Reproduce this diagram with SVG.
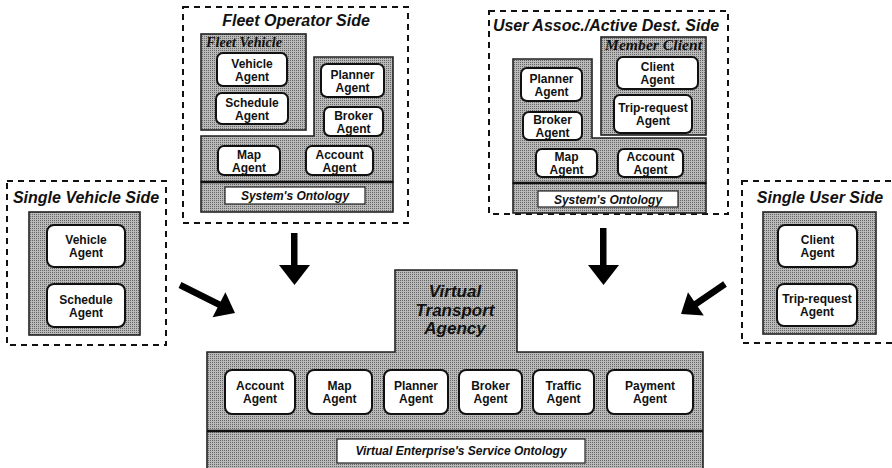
<svg xmlns="http://www.w3.org/2000/svg" width="892" height="468" viewBox="0 0 892 468">
<defs>
<pattern id="ht" width="2" height="2" patternUnits="userSpaceOnUse">
<rect width="2" height="2" fill="#bababa"/>
<rect width="1" height="1" fill="#646464"/>
</pattern>
</defs>
<style>
.dash{fill:none;stroke:#111;stroke-width:2;stroke-dasharray:6 5}
.grey{fill:url(#ht);stroke:#222;stroke-width:1.6}
.ag{fill:#fff;stroke:#111;stroke-width:2}
.onto{fill:#fff;stroke:#222;stroke-width:1.2}
.sep{stroke:#111;stroke-width:2.5}
text{font-family:"Liberation Sans",Arial,sans-serif;font-weight:bold;fill:#111}
.t{font-size:12px;text-anchor:middle}
.title{font-size:16px;font-style:italic;text-anchor:middle}
.ot{font-size:12px;font-style:italic;text-anchor:middle}
.ser{font-family:"Liberation Serif","Times New Roman",serif;font-style:italic;font-weight:bold;font-size:14px}
.vta{font-size:17px;font-style:italic;text-anchor:middle}
.arrow{fill:#000}
</style>

<g id="fleet-operator-side">
<rect class="dash" x="183" y="7" width="225" height="216"/>
<text class="title" x="296" y="26">Fleet Operator Side</text>
<g id="fleet-vehicle">
<rect class="grey" x="201" y="34" width="105" height="96"/>
<text class="ser" x="206" y="47" textLength="76" lengthAdjust="spacingAndGlyphs">Fleet Vehicle</text>
</g>
<polygon class="grey" points="314,57 393,57 393,182 201,182 201,136 314,136"/>
<rect class="grey" x="201" y="182" width="192" height="30"/>
<line class="sep" x1="201" y1="182" x2="393" y2="182"/>
<g id="fo-vehicle-agent"><rect class="ag" x="217" y="53" width="70" height="33" rx="6"/><text class="t" x="252" y="67.5">Vehicle</text><text class="t" x="252" y="80.5">Agent</text></g>
<g id="fo-schedule-agent"><rect class="ag" x="216" y="93" width="72" height="31" rx="6"/><text class="t" x="252" y="106.5">Schedule</text><text class="t" x="252" y="119.5">Agent</text></g>
<g id="fo-planner-agent"><rect class="ag" x="321" y="64" width="63" height="33" rx="6"/><text class="t" x="352.5" y="78.5">Planner</text><text class="t" x="352.5" y="91.5">Agent</text></g>
<g id="fo-broker-agent"><rect class="ag" x="324" y="107" width="59" height="29" rx="6"/><text class="t" x="353.5" y="119.5">Broker</text><text class="t" x="353.5" y="132.5">Agent</text></g>
<g id="fo-map-agent"><rect class="ag" x="218" y="146" width="62" height="29" rx="6"/><text class="t" x="249" y="158.5">Map</text><text class="t" x="249" y="171.5">Agent</text></g>
<g id="fo-account-agent"><rect class="ag" x="306" y="146" width="67" height="29" rx="6"/><text class="t" x="339.5" y="158.5">Account</text><text class="t" x="339.5" y="171.5">Agent</text></g>
<g id="fo-ontology"><rect class="onto" x="225" y="187" width="140" height="17"/><text class="ot" x="295" y="200">System's Ontology</text></g>
</g>

<g id="user-assoc-side">
<rect class="dash" x="489" y="11" width="239" height="203"/>
<text class="title" x="606" y="31">User Assoc./Active Dest. Side</text>
<g id="member-client">
<rect class="grey" x="601" y="37" width="105" height="98"/>
<text class="ser" x="605" y="50" textLength="97" lengthAdjust="spacingAndGlyphs">Member Client</text>
</g>
<polygon class="grey" points="513,59 592,59 592,138 706,138 706,183 513,183"/>
<rect class="grey" x="513" y="183" width="193" height="30"/>
<line class="sep" x1="513" y1="183" x2="706" y2="183"/>
<g id="ua-client-agent"><rect class="ag" x="617" y="57" width="81" height="32" rx="6"/><text class="t" x="657.5" y="71">Client</text><text class="t" x="657.5" y="84">Agent</text></g>
<g id="ua-trip-request-agent"><rect class="ag" x="614" y="95" width="78" height="38" rx="6"/><text class="t" x="653" y="112">Trip-request</text><text class="t" x="653" y="125">Agent</text></g>
<g id="ua-planner-agent"><rect class="ag" x="521" y="68" width="61" height="33" rx="6"/><text class="t" x="551.5" y="82.5">Planner</text><text class="t" x="551.5" y="95.5">Agent</text></g>
<g id="ua-broker-agent"><rect class="ag" x="523" y="112" width="59" height="28" rx="6"/><text class="t" x="552.5" y="124">Broker</text><text class="t" x="552.5" y="137">Agent</text></g>
<g id="ua-map-agent"><rect class="ag" x="536" y="149" width="61" height="28" rx="6"/><text class="t" x="566.5" y="161">Map</text><text class="t" x="566.5" y="174">Agent</text></g>
<g id="ua-account-agent"><rect class="ag" x="618" y="149" width="65" height="28" rx="6"/><text class="t" x="650.5" y="161">Account</text><text class="t" x="650.5" y="174">Agent</text></g>
<g id="ua-ontology"><rect class="onto" x="538" y="191" width="140" height="16"/><text class="ot" x="608" y="203.5">System's Ontology</text></g>
</g>

<g id="single-vehicle-side">
<rect class="dash" x="7" y="181" width="159" height="164"/>
<text class="title" x="86" y="203">Single Vehicle Side</text>
<rect class="grey" x="29" y="212" width="111" height="123"/>
<g id="sv-vehicle-agent"><rect class="ag" x="47" y="225" width="78" height="42" rx="7"/><text class="t" x="86" y="244">Vehicle</text><text class="t" x="86" y="257">Agent</text></g>
<g id="sv-schedule-agent"><rect class="ag" x="47" y="284" width="78" height="43" rx="7"/><text class="t" x="86" y="303.5">Schedule</text><text class="t" x="86" y="316.5">Agent</text></g>
</g>

<g id="single-user-side">
<rect class="dash" x="742" y="181" width="170" height="162"/>
<text class="title" x="820" y="203">Single User Side</text>
<rect class="grey" x="763" y="212" width="113" height="122"/>
<g id="su-client-agent"><rect class="ag" x="778" y="225" width="79" height="42" rx="7"/><text class="t" x="817.5" y="244">Client</text><text class="t" x="817.5" y="257">Agent</text></g>
<g id="su-trip-request-agent"><rect class="ag" x="777" y="284" width="80" height="42" rx="7"/><text class="t" x="817" y="303">Trip-request</text><text class="t" x="817" y="316">Agent</text></g>
</g>

<g id="virtual-transport-agency">
<polygon class="grey" points="395,270 517,270 517,352 703,352 703,470 207,470 207,352 395,352"/>
<line class="sep" x1="207" y1="431" x2="703" y2="431"/>
<text class="vta" x="455" y="297">Virtual</text>
<text class="vta" x="455" y="315.5">Transport</text>
<text class="vta" x="455" y="334">Agency</text>
<g id="vta-account-agent"><rect class="ag" x="225" y="370" width="70" height="44" rx="7"/><text class="t" x="260" y="390">Account</text><text class="t" x="260" y="403">Agent</text></g>
<g id="vta-map-agent"><rect class="ag" x="307" y="370" width="65" height="44" rx="7"/><text class="t" x="339.5" y="390">Map</text><text class="t" x="339.5" y="403">Agent</text></g>
<g id="vta-planner-agent"><rect class="ag" x="384" y="370" width="64" height="44" rx="7"/><text class="t" x="416" y="390">Planner</text><text class="t" x="416" y="403">Agent</text></g>
<g id="vta-broker-agent"><rect class="ag" x="459" y="370" width="63" height="44" rx="7"/><text class="t" x="490.5" y="390">Broker</text><text class="t" x="490.5" y="403">Agent</text></g>
<g id="vta-traffic-agent"><rect class="ag" x="533" y="370" width="61" height="44" rx="7"/><text class="t" x="563.5" y="390">Traffic</text><text class="t" x="563.5" y="403">Agent</text></g>
<g id="vta-payment-agent"><rect class="ag" x="607" y="370" width="86" height="44" rx="7"/><text class="t" x="650" y="390">Payment</text><text class="t" x="650" y="403">Agent</text></g>
<g id="vta-ontology"><rect class="onto" x="337" y="439" width="248" height="24"/><text class="ot" x="461" y="455">Virtual Enterprise's Service Ontology</text></g>
</g>

<g id="connectors">
<g id="arrow-fleet">
<rect class="arrow" x="291" y="233" width="6.5" height="33"/>
<polygon class="arrow" points="279,265 310,265 294.5,285"/>
</g>
<g id="arrow-user">
<rect class="arrow" x="600" y="228" width="6.5" height="38"/>
<polygon class="arrow" points="588,265 619,265 603.5,285"/>
</g>
<g id="arrow-single-vehicle">
<line x1="180" y1="285" x2="220" y2="305" stroke="#000" stroke-width="6.5"/>
<polygon class="arrow" points="225.4,292.3 212.6,317.3 235,313"/>
</g>
<g id="arrow-single-user">
<line x1="725" y1="284" x2="695" y2="304.5" stroke="#000" stroke-width="6.5"/>
<polygon class="arrow" points="688,292.3 703.8,315.5 681,314"/>
</g>
</g>
</svg>
